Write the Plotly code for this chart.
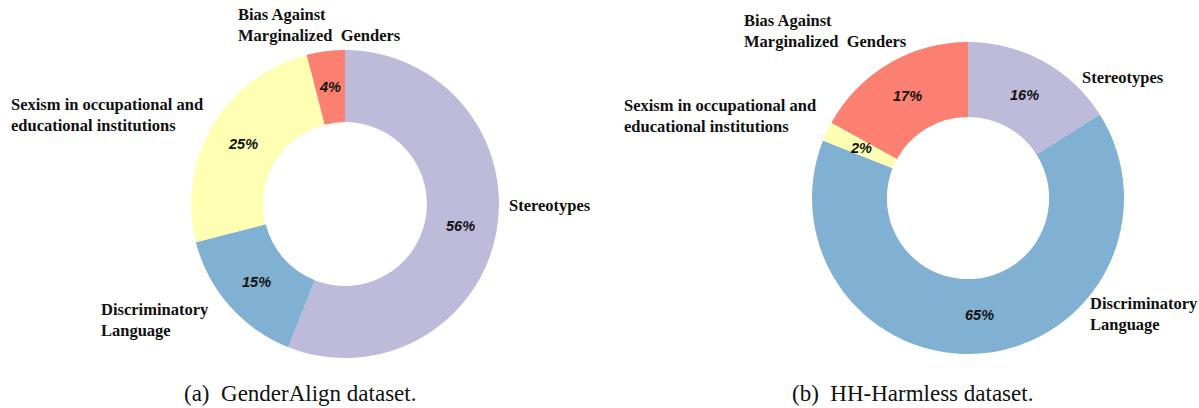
import math
import plotly.graph_objects as go

W, H = 1199, 408

# ---- data ----
categories = ["Stereotypes", "Discriminatory Language",
              "Sexism in occupational and educational institutions",
              "Bias Against Marginalized Genders"]
genderalign_values = [56, 15, 25, 4]
hhharmless_values = [16, 65, 2, 17]
captions = ["(a)\u00a0 GenderAlign dataset.", "(b)\u00a0 HH-Harmless dataset."]

# label texts (displayed with line breaks)
label_text = {
    "Stereotypes": "Stereotypes",
    "Discriminatory Language": "Discriminatory<br>Language",
    "Sexism in occupational and educational institutions":
        "Sexism in occupational and<br>educational institutions",
    "Bias Against Marginalized Genders": "Bias Against<br>Marginalized\u00a0 Genders",
}

colors = ["#BEBADA", "#80B1D3", "#FFFFB3", "#FB8072"]

# ---- layout (window pixels) ----
pies = [
    dict(values=genderalign_values, cx=345, cy=204, r=154, hole=0.532, cap_x=300,
         labels={"Stereotypes": (507, 205),
                 "Discriminatory Language": (99, 320),
                 "Sexism in occupational and educational institutions": (9, 115),
                 "Bias Against Marginalized Genders": (236, 25)}),
    dict(values=hhharmless_values, cx=968, cy=198, r=156, hole=0.52, cap_x=912,
         labels={"Stereotypes": (1080, 77),
                 "Discriminatory Language": (1088, 314),
                 "Sexism in occupational and educational institutions": (622, 116),
                 "Bias Against Marginalized Genders": (742, 31)}),
]

def px(x):
    return x / W

def py(y):
    return 1 - y / H

fig = go.Figure()
annotations = []
for p in pies:
    cx, cy, r = p["cx"], p["cy"], p["r"]
    fig.add_trace(go.Pie(
        labels=categories, values=p["values"], hole=p["hole"],
        sort=False, direction="clockwise", rotation=0,
        marker=dict(colors=colors, line=dict(width=0)),
        textinfo="none", hoverinfo="label+percent", showlegend=False,
        domain=dict(x=[px(cx - r), px(cx + r)], y=[py(cy + r), py(cy - r)]),
    ))
    total = sum(p["values"])
    cum = 0
    rt = 118
    for cat, v in zip(categories, p["values"]):
        mid = (cum + v / 2) / total * 2 * math.pi
        cum += v
        tx = cx + rt * math.sin(mid)
        ty = cy - rt * math.cos(mid)
        annotations.append(dict(
            x=px(tx), y=py(ty), xref="paper", yref="paper",
            text=f"<b><i>{v / total * 100:.0f}%</i></b>", showarrow=False,
            xanchor="center", yanchor="middle",
            font=dict(family="Liberation Sans, Arial", size=14.5, color="#111111"),
        ))
        lx, ly = p["labels"][cat]
        annotations.append(dict(
            x=px(lx), y=py(ly), xref="paper", yref="paper",
            text=f"<b>{label_text[cat]}</b>", showarrow=False,
            xanchor="left", yanchor="middle", align="left",
            font=dict(family="Liberation Serif, Times New Roman", size=16.5, color="#111111"),
        ))

for p, cap in zip(pies, captions):
    annotations.append(dict(
        x=px(p["cap_x"]), y=py(393), xref="paper", yref="paper",
        text=cap, showarrow=False, xanchor="center", yanchor="middle",
        font=dict(family="Liberation Serif, Times New Roman", size=23, color="#111111"),
    ))

fig.update_layout(
    width=W, height=H, margin=dict(l=0, r=0, t=0, b=0),
    paper_bgcolor="white", plot_bgcolor="white",
    annotations=annotations,
)

fig.write_html(
    "out.html",
    config={"displayModeBar": False},
    post_script="document.body.style.margin='0';document.body.style.overflow='hidden';",
)
